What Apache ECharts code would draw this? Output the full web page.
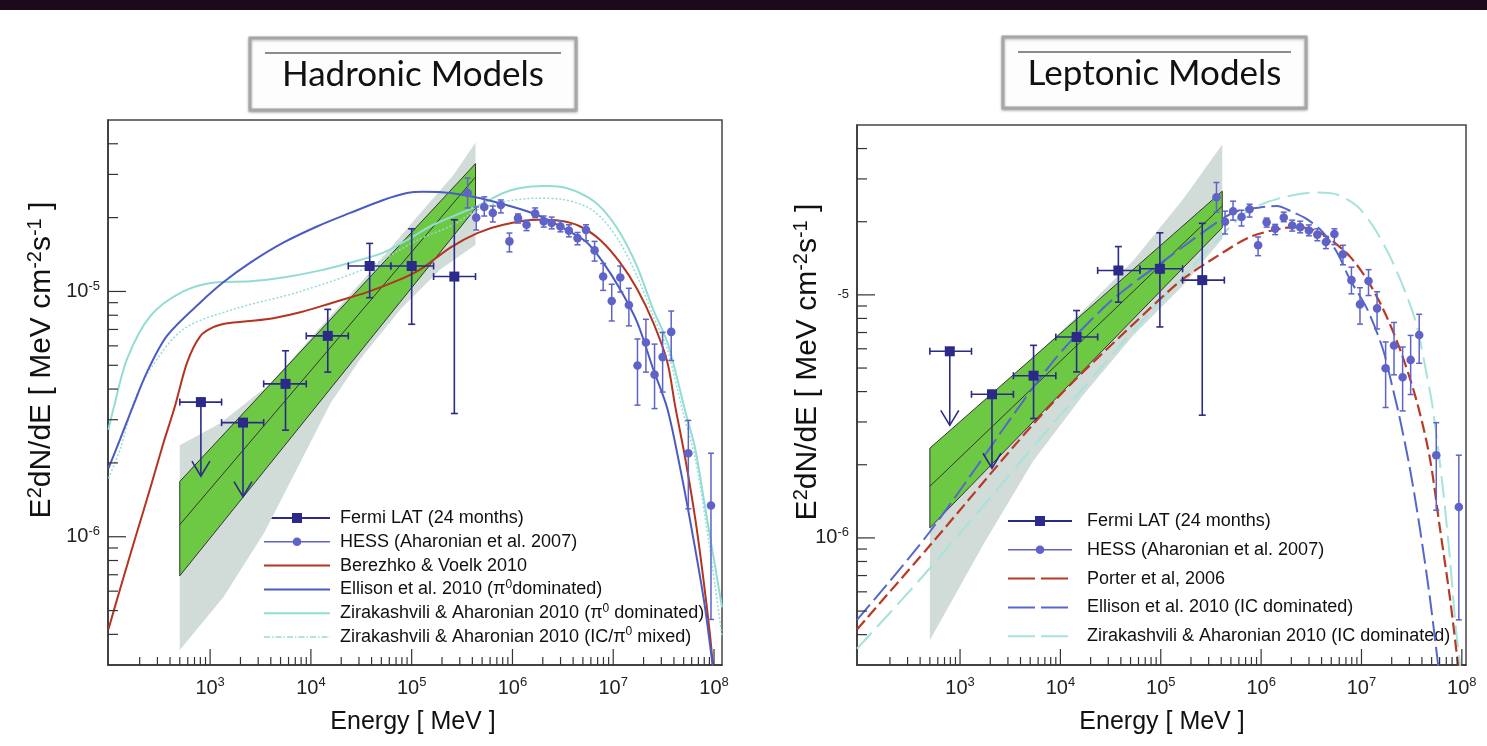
<!DOCTYPE html>
<html>
<head>
<meta charset="utf-8">
<title>Hadronic and Leptonic Models</title>
<script src="https://cdn.jsdelivr.net/npm/echarts@6/dist/echarts.min.js"></script>
<style>
  html, body { margin: 0; padding: 0; background: #fff; }
  #chart { width: 1487px; height: 746px; }
</style>
</head>
<body>
<div id="chart"></div>
<script>
// axis ranges and tick labels
let yMin = 3e-7, yMax = 5e-5
let xMinHad = 97, xMaxHad = 1.2e8
let xMinLep = 94, xMaxLep = 1.1e8
let xMajorTicks = [1e3, 1e4, 1e5, 1e6, 1e7, 1e8]
let xTickExp = ['3', '4', '5', '6', '7', '8']
let yMajorTicks = [1e-6, 1e-5]
let yTickExp = ['-6', '-5']
let yHideBaseLep = [false, true]
let mantissas = [2, 3, 4, 5, 6, 7, 8, 9]
let xDecades = [1e2, 1e3, 1e4, 1e5, 1e6, 1e7]
let yDecades = [1e-7, 1e-6, 1e-5]

// Fermi LAT: [E, F, Elow, Ehigh] for upper limits, [E, F, Elow, Ehigh, Flow, Fhigh] for points
let fermiHadUL = [[810, 3.54e-6, 500, 1300], [2120, 2.92e-6, 1300, 3400]]
let fermiHad = [
  [5600, 4.20e-6, 3400, 9000, 2.72e-6, 5.73e-6],
  [14700, 6.59e-6, 9000, 23500, 4.69e-6, 8.45e-6],
  [38300, 1.27e-5, 23500, 62000, 9.43e-6, 1.57e-5],
  [100000, 1.27e-5, 62000, 165000, 7.35e-6, 1.80e-5],
  [265000, 1.15e-5, 165000, 430000, 3.18e-6, 1.96e-5]
]
let fermiLepUL = [[790, 5.86e-6, 500, 1300], [2080, 3.90e-6, 1300, 3400]]
let fermiLep = [
  [5400, 4.65e-6, 3400, 9000, 3.10e-6, 6.20e-6],
  [14500, 6.71e-6, 9000, 23500, 4.82e-6, 8.62e-6],
  [37800, 1.26e-5, 23500, 62000, 9.33e-6, 1.58e-5],
  [98000, 1.28e-5, 62000, 165000, 7.38e-6, 1.80e-5],
  [259000, 1.15e-5, 165000, 430000, 3.20e-6, 1.97e-5]
]

// HESS (Aharonian et al. 2007)
let hessE = [3.59e5, 4.37e5, 5.25e5, 6.38e5, 7.67e5, 9.33e5, 1.135e6, 1.38e6, 1.68e6, 2.04e6,
  2.45e6, 2.99e6, 3.63e6, 4.42e6, 5.37e6, 6.53e6, 7.94e6, 9.66e6, 1.175e7, 1.43e7,
  1.74e7, 2.11e7, 2.57e7, 3.09e7, 3.76e7, 5.56e7, 9.33e7]
let hessF = [2.52e-5, 2.00e-5, 2.21e-5, 2.09e-5, 2.25e-5, 1.60e-5, 1.99e-5, 1.87e-5, 2.08e-5, 1.93e-5,
  1.90e-5, 1.84e-5, 1.77e-5, 1.65e-5, 1.78e-5, 1.47e-5, 1.15e-5, 9.14e-6, 1.14e-5, 8.80e-6,
  4.99e-6, 6.19e-6, 4.58e-6, 5.40e-6, 6.84e-6, 2.19e-6, 1.34e-6]
let hessLo = [2.19e-5, 1.78e-5, 2.03e-5, 1.92e-5, 2.09e-5, 1.45e-5, 1.90e-5, 1.77e-5, 2.00e-5, 1.83e-5,
  1.80e-5, 1.75e-5, 1.67e-5, 1.55e-5, 1.61e-5, 1.33e-5, 1.01e-5, 7.58e-6, 9.94e-6, 7.24e-6,
  3.44e-6, 4.69e-6, 3.33e-6, 3.89e-6, 5.23e-6, 1.30e-6, 4.6e-7]
let hessHi = [2.90e-5, 2.21e-5, 2.43e-5, 2.23e-5, 2.36e-5, 1.73e-5, 2.07e-5, 1.95e-5, 2.19e-5, 2.03e-5,
  2.01e-5, 1.94e-5, 1.87e-5, 1.74e-5, 1.87e-5, 1.60e-5, 1.30e-5, 1.07e-5, 1.27e-5, 1.03e-5,
  6.40e-6, 7.70e-6, 6.10e-6, 6.81e-6, 8.32e-6, 2.98e-6, 2.19e-6]

// Fermi bands (systematic grey, statistical green)
let greyHadUpper = [[500, 2.36e-6], [1262, 2.90e-6], [3950, 4.20e-6], [12400, 7.15e-6], [38800, 1.20e-5], [1.22e5, 2.09e-5], [2.59e5, 2.98e-5], [4.3e5, 4.05e-5]]
let greyHadLower = [[500, 3.45e-7], [1352, 5.66e-7], [3450, 1.04e-6], [7330, 1.90e-6], [15600, 3.49e-6], [30900, 5.31e-6], [77100, 8.45e-6], [1.92e5, 1.23e-5], [4.3e5, 1.55e-5]]
let greenHadUpper = [[500, 1.68e-6], [4.3e5, 3.32e-5]]
let greenHadMid = [[500, 1.12e-6], [4.3e5, 2.93e-5]]
let greenHadLower = [[500, 6.93e-7], [4.3e5, 2.18e-5]]

let greyLepUpper = [[500, 2.30e-6], [4980, 5.37e-6], [16800, 8.60e-6], [52800, 1.38e-5], [1.66e5, 2.47e-5], [4.1e5, 4.16e-5]]
let greyLepLower = [[500, 3.79e-7], [1694, 9.36e-7], [5330, 2.07e-6], [16800, 3.86e-6], [52800, 6.79e-6], [1.66e5, 1.09e-5], [4.1e5, 1.70e-5]]
let greenLepUpper = [[500, 2.34e-6], [4.1e5, 2.67e-5]]
let greenLepMid = [[500, 1.63e-6], [4.1e5, 2.32e-5]]
let greenLepLower = [[500, 1.10e-6], [4.1e5, 1.89e-5]]

// hadronic models
let berezhko = [[98, 4.2e-7], [129, 6.2e-7], [181, 9.9e-7], [255, 1.58e-6], [343, 2.40e-6], [441, 3.33e-6], [594, 5.16e-6],
  [800, 6.58e-6], [1077, 7.15e-6], [1483, 7.42e-6], [2507, 7.58e-6], [4240, 7.78e-6], [7850, 8.22e-6], [16700, 9.02e-6],
  [36300, 9.94e-6], [77100, 1.12e-5], [1.22e5, 1.23e-5], [2.42e5, 1.51e-5], [4.48e5, 1.73e-5], [8.11e5, 1.87e-5],
  [1.76e6, 1.96e-5], [2.98e6, 1.94e-5], [4.71e6, 1.84e-5], [7.43e6, 1.62e-5], [1.17e7, 1.31e-5], [1.73e7, 1.02e-5],
  [2.49e7, 7.48e-6], [3.44e7, 5.16e-6], [4.12e7, 3.4e-6], [5.18e7, 2.09e-6], [6.50e7, 1.19e-6], [7.81e7, 6.82e-7],
  [9.17e7, 3.90e-7], [1.0e8, 2.6e-7]]
let ellisonPi = [[98, 1.90e-6], [129, 2.52e-6], [168, 3.33e-6], [237, 4.70e-6], [373, 6.59e-6], [800, 9.02e-6],
  [1352, 1.09e-5], [2507, 1.31e-5], [5320, 1.58e-5], [11500, 1.84e-5], [24600, 2.09e-5], [52300, 2.36e-5],
  [89700, 2.52e-5], [1.30e5, 2.55e-5], [2.42e5, 2.52e-5], [4.80e5, 2.40e-5], [1.19e6, 2.17e-5], [1.76e6, 2.05e-5],
  [2.54e6, 1.91e-5], [3.74e6, 1.75e-5], [5.52e6, 1.58e-5], [7.96e6, 1.31e-5], [1.17e7, 1.02e-5], [1.73e7, 7.48e-6],
  [2.49e7, 4.83e-6], [3.44e7, 3.33e-6], [4.62e7, 1.90e-6], [6.22e7, 9.9e-7], [8.0e7, 5.4e-7], [9.6e7, 3.09e-7], [1.05e8, 2.3e-7]]
let ziraPi = [[98, 2.73e-6], [110, 3.33e-6], [150, 5.31e-6], [255, 7.94e-6], [542, 1.00e-5], [1170, 1.09e-5],
  [2507, 1.10e-5], [5320, 1.14e-5], [11500, 1.21e-5], [24600, 1.31e-5], [52300, 1.44e-5], [89700, 1.62e-5],
  [1.64e5, 1.87e-5], [4.69e5, 2.25e-5], [8.11e5, 2.52e-5], [1.19e6, 2.64e-5], [2.02e6, 2.69e-5], [3.19e6, 2.66e-5],
  [5.52e6, 2.43e-5], [7.96e6, 2.15e-5], [1.17e7, 1.73e-5], [1.73e7, 1.26e-5], [2.49e7, 8.45e-6], [3.44e7, 6.22e-6],
  [4.32e7, 4.4e-6], [5.18e7, 3.25e-6], [6.50e7, 2.29e-6], [8.18e7, 1.31e-6], [1.03e8, 7.48e-7], [1.2e8, 5.16e-7]]
let ziraMixed = [[98, 1.73e-6], [129, 2.29e-6], [173, 3.49e-6], [255, 4.83e-6], [542, 7.02e-6], [1698, 8.45e-6],
  [7850, 1.0e-5], [36300, 1.25e-5], [1.14e5, 1.62e-5], [2.59e5, 1.87e-5], [4.48e5, 2.15e-5], [8.11e5, 2.32e-5],
  [1.76e6, 2.40e-5], [2.98e6, 2.38e-5], [5.52e6, 2.21e-5], [7.96e6, 1.96e-5], [1.17e7, 1.58e-5], [1.73e7, 1.15e-5],
  [2.49e7, 7.94e-6], [3.44e7, 5.82e-6], [4.32e7, 4.0e-6], [4.94e7, 3.2e-6], [6.50e7, 2.09e-6], [8.18e7, 1.19e-6],
  [1.03e8, 6.22e-7], [1.2e8, 3.9e-7]]

// leptonic models
let porter = [[94, 4.2e-7], [500, 9.3e-7], [7870, 3.5e-6], [78000, 8.8e-6], [1.66e5, 1.16e-5], [3.62e5, 1.44e-5],
  [7.73e5, 1.73e-5], [1.65e6, 1.88e-5], [2.43e6, 1.90e-5], [3.59e6, 1.83e-5], [5.18e6, 1.66e-5], [7.66e6, 1.44e-5],
  [1.13e7, 1.16e-5], [1.63e7, 8.8e-6], [2.41e7, 6.0e-6], [3.56e7, 3.64e-6], [4.8e7, 2.13e-6], [6.04e7, 1.10e-6],
  [7.6e7, 5.68e-7], [9.1e7, 3.08e-7], [1.0e8, 2.2e-7]]
let ellisonIC = [[94, 4.6e-7], [500, 1.06e-6], [7870, 5.13e-6], [31200, 9.36e-6], [1.15e5, 1.41e-5], [4.05e5, 2.05e-5],
  [5.74e5, 2.21e-5], [9.71e5, 2.29e-5], [1.43e6, 2.32e-5], [2.07e6, 2.19e-5], [2.86e6, 2.05e-5], [4.12e6, 1.81e-5],
  [5.68e6, 1.50e-5], [7.66e6, 1.16e-5], [1.13e7, 8.8e-6], [1.63e7, 6.0e-6], [2.05e7, 4.12e-6], [2.41e7, 3.10e-6],
  [3.03e7, 1.94e-6], [3.81e7, 1.10e-6], [4.8e7, 5.68e-7], [5.76e7, 3.08e-7], [6.5e7, 2.0e-7]]
let ziraIC = [[94, 3.5e-7], [500, 7.5e-7], [16800, 4.12e-6], [78200, 8.5e-6], [4.87e5, 1.90e-5], [7.78e5, 2.25e-5],
  [1.66e6, 2.52e-5], [3.60e6, 2.64e-5], [5.69e6, 2.59e-5], [9.01e6, 2.32e-5], [1.30e7, 1.92e-5], [1.92e7, 1.44e-5],
  [2.83e7, 9.91e-6], [3.56e7, 7.46e-6], [4.48e7, 4.66e-6], [5.14e7, 3.41e-6], [6.47e7, 1.60e-6], [7.6e7, 8.28e-7],
  [8.7e7, 4.28e-7], [9.55e7, 3.08e-7], [1.05e8, 2.0e-7]]

// legend texts
let legendHad = ['Fermi LAT (24 months)', 'HESS (Aharonian et al. 2007)', 'Berezhko & Voelk 2010',
  'Ellison et al. 2010 (π{s|0}dominated)', 'Zirakashvili & Aharonian 2010 (π{s|0} dominated)',
  'Zirakashvili & Aharonian 2010 (IC/π{s|0} mixed)']
let legendLep = ['Fermi LAT (24 months)', 'HESS (Aharonian et al. 2007)', 'Porter et al, 2006',
  'Ellison et al. 2010 (IC dominated)', 'Zirakashvili & Aharonian 2010 (IC dominated)']

let FONT = 'Liberation Sans, Arial, sans-serif'
let FERMI = '#2b2a88', HESS = '#5f63c8'
let RED = '#b5341f', BLUE = '#4a5cc4', CYAN = '#93dcd4'
let GREEN = '#6dc943', GREY = '#d1dcd9'

function tickList(decades, lo, hi) {
  let out = []
  decades.forEach(function (d) {
    mantissas.forEach(function (m) {
      let v = m * d
      if (v > lo * 1.0001 && v < hi * 0.9999) out.push(v)
    })
  })
  return out
}

function expLabel(ticks, exps, hideBase) {
  return function (v) {
    for (let i = 0; i < ticks.length; i++) {
      if (Math.abs(v / ticks[i] - 1) < 1e-6) {
        return (hideBase && hideBase[i] ? '' : '10') + '{s|' + exps[i] + '}'
      }
    }
    return ''
  }
}

let labelCfg = {
  fontSize: 20, lineHeight: 24, color: '#222', fontFamily: FONT,
  rich: {s: {fontSize: 13, lineHeight: 13, verticalAlign: 'top', color: '#222', fontFamily: FONT}}
}

function xAxisCfg(gi, min, max) {
  return {
    type: 'log', logBase: 10, gridIndex: gi, min: min, max: max,
    axisLine: {show: true, lineStyle: {color: '#333', width: 1.5}},
    axisTick: {show: false}, splitLine: {show: false},
    axisLabel: Object.assign({margin: 11, formatter: expLabel(xMajorTicks, xTickExp)}, labelCfg)
  }
}

function yAxisCfg(gi, hideBase) {
  return {
    type: 'log', logBase: 10, gridIndex: gi, min: yMin, max: yMax,
    axisLine: {show: true, lineStyle: {color: '#333', width: 1.5}},
    axisTick: {show: false}, splitLine: {show: false},
    axisLabel: Object.assign({margin: 8, formatter: expLabel(yMajorTicks, yTickExp, hideBase)}, labelCfg)
  }
}

// ticks drawn inward: [value, other, kind] kind 0 x-minor, 1 x-major, 2 y-minor, 3 y-major
function tickSeries(gi, xMin, xMax) {
  let data = []
  tickList(xDecades, xMin, xMax).forEach(function (v) { data.push([v, yMin, 0]) })
  xMajorTicks.forEach(function (v) { if (v < xMax) data.push([v, yMin, 1]) })
  tickList(yDecades, yMin, yMax).forEach(function (v) { data.push([xMin, v, 2]) })
  yMajorTicks.forEach(function (v) { data.push([xMin, v, 3]) })
  return {
    type: 'custom', xAxisIndex: gi, yAxisIndex: gi, silent: true, z: 10, data: data,
    renderItem: function (params, api) {
      let p = api.coord([api.value(0), api.value(1)])
      let k = api.value(2)
      let shape
      if (k === 0) shape = {x1: p[0], y1: p[1], x2: p[0], y2: p[1] - 8}
      else if (k === 1) shape = {x1: p[0], y1: p[1], x2: p[0], y2: p[1] - 16}
      else if (k === 2) shape = {x1: p[0], y1: p[1], x2: p[0] + 10, y2: p[1]}
      else shape = {x1: p[0], y1: p[1], x2: p[0] + 18, y2: p[1]}
      return {type: 'line', shape: shape, style: {stroke: '#333', lineWidth: 1.2}}
    }
  }
}

function bandSeries(gi, upper, lower, fill, stroke, mid, z) {
  let poly = upper.concat(lower.slice().reverse())
  return {
    type: 'custom', xAxisIndex: gi, yAxisIndex: gi, silent: true, clip: true, z: z, data: poly,
    renderItem: function (params, api) {
      if (params.dataIndex !== 0) return null
      let pts = poly.map(function (d) { return api.coord(d) })
      let children = [{type: 'polygon', shape: {points: pts}, style: {fill: fill, stroke: stroke, lineWidth: 1}}]
      if (mid) {
        children.push({type: 'polyline', shape: {points: mid.map(function (d) { return api.coord(d) })},
          style: {stroke: '#333', fill: null, lineWidth: 1}})
      }
      return {type: 'group', children: children}
    }
  }
}

function modelLine(gi, data, color, width, type) {
  return {
    type: 'line', xAxisIndex: gi, yAxisIndex: gi, data: data, symbol: 'none', showSymbol: false,
    smooth: 0.3, silent: true, z: 3, lineStyle: {color: color, width: width, type: type}
  }
}

function fermiSeries(gi, data, withErr) {
  return {
    type: 'custom', xAxisIndex: gi, yAxisIndex: gi, silent: true, z: 6, data: data,
    renderItem: function (params, api) {
      let e = api.value(0), f = api.value(1)
      let p = api.coord([e, f])
      let a = api.coord([api.value(2), f])
      let b = api.coord([api.value(3), f])
      let st = {stroke: FERMI, lineWidth: 1.6}
      let cap = 3.5
      let ch = [
        {type: 'line', shape: {x1: a[0], y1: p[1], x2: b[0], y2: p[1]}, style: st},
        {type: 'line', shape: {x1: a[0], y1: p[1] - cap, x2: a[0], y2: p[1] + cap}, style: st},
        {type: 'line', shape: {x1: b[0], y1: p[1] - cap, x2: b[0], y2: p[1] + cap}, style: st}
      ]
      if (withErr) {
        let lo = api.coord([e, api.value(4)]), hi = api.coord([e, api.value(5)])
        ch.push({type: 'line', shape: {x1: p[0], y1: lo[1], x2: p[0], y2: hi[1]}, style: st})
        ch.push({type: 'line', shape: {x1: p[0] - cap, y1: lo[1], x2: p[0] + cap, y2: lo[1]}, style: st})
        ch.push({type: 'line', shape: {x1: p[0] - cap, y1: hi[1], x2: p[0] + cap, y2: hi[1]}, style: st})
      } else {
        let tip = p[1] + 74
        ch.push({type: 'line', shape: {x1: p[0], y1: p[1], x2: p[0], y2: tip}, style: st})
        ch.push({type: 'polyline', shape: {points: [[p[0] - 9, tip - 15], [p[0], tip], [p[0] + 9, tip - 15]]},
          style: {stroke: FERMI, fill: null, lineWidth: 1.6}})
      }
      ch.push({type: 'rect', shape: {x: p[0] - 5, y: p[1] - 5, width: 10, height: 10}, style: {fill: FERMI}})
      return {type: 'group', children: ch}
    }
  }
}

let hessData = hessE.map(function (e, i) { return [e, hessF[i], hessLo[i], hessHi[i]] })

function hessSeries(gi) {
  return {
    type: 'custom', xAxisIndex: gi, yAxisIndex: gi, silent: true, clip: true, z: 5, data: hessData,
    renderItem: function (params, api) {
      let e = api.value(0)
      let p = api.coord([e, api.value(1)])
      let lo = api.coord([e, api.value(2)]), hi = api.coord([e, api.value(3)])
      let st = {stroke: HESS, lineWidth: 1.5}
      return {type: 'group', children: [
        {type: 'line', shape: {x1: p[0], y1: lo[1], x2: p[0], y2: hi[1]}, style: st},
        {type: 'line', shape: {x1: p[0] - 3, y1: lo[1], x2: p[0] + 3, y2: lo[1]}, style: st},
        {type: 'line', shape: {x1: p[0] - 3, y1: hi[1], x2: p[0] + 3, y2: hi[1]}, style: st},
        {type: 'circle', shape: {cx: p[0], cy: p[1], r: 4.3}, style: {fill: HESS}}
      ]}
    }
  }
}

// graphics: header bar, title boxes, axis names, legends
let textRich = function (size, supSize) {
  return {
    b: {fontSize: size, lineHeight: size + 4, fontFamily: FONT, fill: '#111'},
    s: {fontSize: supSize, lineHeight: supSize, verticalAlign: 'top', fontFamily: FONT, fill: '#111'}
  }
}

function titleBox(x, y, w, h, label) {
  return {
    type: 'group', z: 100, children: [
      {type: 'rect', shape: {x: x, y: y, width: w, height: h},
        style: {fill: '#fdfdfd', stroke: '#a6a6a6', lineWidth: 3, shadowBlur: 3, shadowOffsetY: 1, shadowColor: 'rgba(0,0,0,0.3)'}},
      {type: 'line', shape: {x1: x + 15, y1: y + 15, x2: x + w - 15, y2: y + 15}, style: {stroke: '#666', lineWidth: 1.5}},
      {type: 'text', x: x + w / 2, y: y + h / 2 + 1,
        style: {text: label, fontFamily: 'Lato, sans-serif', fontSize: 35, fill: '#111', align: 'center', verticalAlign: 'middle'}}
    ]
  }
}

function yTitle(x, y) {
  return {
    type: 'text', x: x, y: y, rotation: Math.PI / 2, z: 100,
    style: {
      text: '{b|E}{s|2}{b|dN/dE [ MeV cm}{s|-2}{b|s}{s|-1}{b| ]}',
      rich: textRich(30, 20), align: 'center', verticalAlign: 'middle'
    }
  }
}

function xTitle(x, y) {
  return {
    type: 'text', x: x, y: y, z: 100,
    style: {text: 'Energy [ MeV ]', fontFamily: FONT, fontSize: 25, fill: '#111', align: 'center', verticalAlign: 'middle'}
  }
}

// kinds: fermi, hess, or line style {color, width, dash}
function legendGroup(x0, x1, tx, y0, step, labels, kinds) {
  let ch = []
  labels.forEach(function (label, i) {
    let y = y0 + i * step
    let k = kinds[i]
    if (k === 'fermi') {
      ch.push({type: 'line', shape: {x1: x0, y1: y, x2: x1, y2: y}, style: {stroke: FERMI, lineWidth: 2}})
      ch.push({type: 'rect', shape: {x: (x0 + x1) / 2 - 5, y: y - 5, width: 10, height: 10}, style: {fill: FERMI}})
    } else if (k === 'hess') {
      ch.push({type: 'line', shape: {x1: x0, y1: y, x2: x1, y2: y}, style: {stroke: HESS, lineWidth: 1.5}})
      ch.push({type: 'circle', shape: {cx: (x0 + x1) / 2, cy: y, r: 4.3}, style: {fill: HESS}})
    } else {
      ch.push({type: 'line', shape: {x1: x0, y1: y, x2: x1, y2: y},
        style: {stroke: k.color, lineWidth: k.width || 2, lineDash: k.dash || null}})
    }
    ch.push({type: 'text', x: tx, y: y,
      style: {text: '{b|' + label.replace(/\{s\|(\d)\}/g, '}{s|$1}{b|') + '}', rich: textRich(18, 12), align: 'left', verticalAlign: 'middle'}})
  })
  return {type: 'group', z: 100, children: ch}
}

let chart = echarts.init(document.getElementById('chart'))
let option = {
  animation: false,
  backgroundColor: '#ffffff',
  textStyle: {fontFamily: FONT},
  grid: [
    {left: 108, top: 120, width: 614, height: 545, show: true, borderColor: '#454545', borderWidth: 1.5, outerBoundsMode: 'none'},
    {left: 857, top: 125, width: 609, height: 540, show: true, borderColor: '#454545', borderWidth: 1.5, outerBoundsMode: 'none'}
  ],
  xAxis: [xAxisCfg(0, xMinHad, xMaxHad), xAxisCfg(1, xMinLep, xMaxLep)],
  yAxis: [yAxisCfg(0, null), yAxisCfg(1, yHideBaseLep)],
  graphic: [
    {type: 'rect', z: 100, shape: {x: 0, y: 0, width: 1487, height: 10}, style: {fill: '#1c0a1a'}},
    titleBox(250, 38, 326, 72, 'Hadronic Models'),
    titleBox(1003, 37, 303, 71, 'Leptonic Models'),
    yTitle(42, 360),
    yTitle(808, 362),
    xTitle(413, 722),
    xTitle(1162, 722),
    legendGroup(264, 330, 340, 518, 23.8, legendHad, [
      'fermi', 'hess',
      {color: RED}, {color: BLUE}, {color: CYAN}, {color: CYAN, width: 1.5, dash: [6, 2, 1.5, 2]}
    ]),
    legendGroup(1008, 1072, 1087, 521, 28.8, legendLep, [
      'fermi', 'hess',
      {color: '#b83a26', dash: [27, 6]}, {color: '#5468cc', dash: [27, 6]}, {color: '#a5e3dc', dash: [27, 6]}
    ])
  ],
  series: [
    // hadronic panel
    bandSeries(0, greyHadUpper, greyHadLower, GREY, null, null, 1),
    bandSeries(0, greenHadUpper, greenHadLower, GREEN, '#333', greenHadMid, 2),
    modelLine(0, ziraMixed, CYAN, 1.5, [2, 2]),
    modelLine(0, ziraPi, CYAN, 2, 'solid'),
    modelLine(0, berezhko, RED, 2, 'solid'),
    modelLine(0, ellisonPi, BLUE, 2, 'solid'),
    hessSeries(0),
    fermiSeries(0, fermiHadUL, false),
    fermiSeries(0, fermiHad, true),
    tickSeries(0, xMinHad, xMaxHad),
    // leptonic panel
    bandSeries(1, greyLepUpper, greyLepLower, GREY, null, null, 1),
    bandSeries(1, greenLepUpper, greenLepLower, GREEN, '#333', greenLepMid, 2),
    modelLine(1, ziraIC, '#a5e3dc', 2, [22, 8]),
    modelLine(1, porter, '#b83a26', 2.2, [12, 5]),
    modelLine(1, ellisonIC, '#5468cc', 2, [20, 6]),
    hessSeries(1),
    fermiSeries(1, fermiLepUL, false),
    fermiSeries(1, fermiLep, true),
    tickSeries(1, xMinLep, xMaxLep)
  ]
}
chart.setOption(option)
</script>
</body>
</html>
